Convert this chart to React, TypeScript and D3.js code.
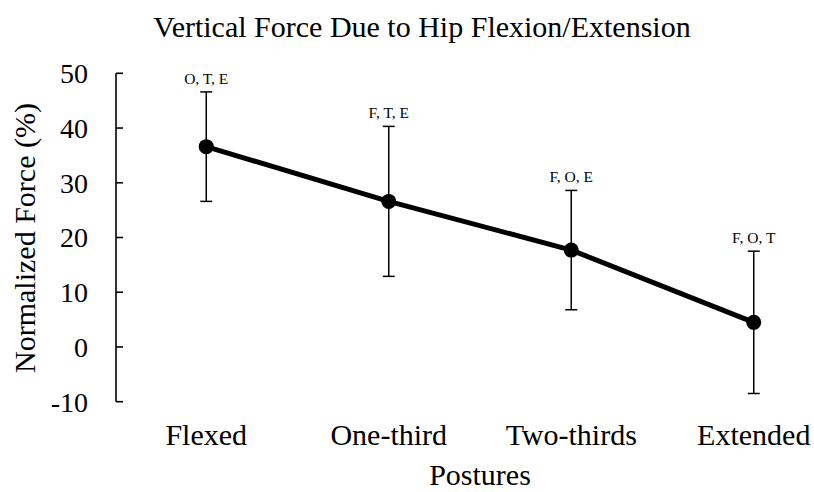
import React from "react";
import * as d3 from "d3";

const categories = ["Flexed", "One-third", "Two-thirds", "Extended"];
const means = [36.6, 26.6, 17.7, 4.5];
const errors = [10.0, 13.7, 10.9, 13.0];
const annotations = ["O, T, E", "F, T, E", "F, O, E", "F, O, T"];
const yTicks = [-10, 0, 10, 20, 30, 40, 50];

const W = 814;
const H = 492;
const FONT = "Liberation Serif, Times New Roman, Times, serif";

export default function App() {
  const x = d3.scalePoint<string>().domain(categories).range([115, 845]).padding(0.5);
  const y = d3.scaleLinear().domain([-10, 50]).range([401.7, 73.3]);
  const pts = categories.map((c, i) => [x(c) as number, y(means[i])] as [number, number]);
  const line = d3.line()(pts) || "";
  const axisX = 116;
  const ts = { fontFamily: FONT };

  return (
    <svg width={W} height={H} style={{ position: "absolute", left: 0, top: 0, background: "#fff", fontFamily: FONT }}>
      <rect x={0} y={0} width={W} height={H} fill="#fff" />
      <text x={422} y={37} fontSize={30} textAnchor="middle" fill="#000" style={ts}>
        Vertical Force Due to Hip Flexion/Extension
      </text>
      <line x1={axisX} x2={axisX} y1={y(50)} y2={y(-10)} stroke="#000" strokeWidth={1.6} />
      {yTicks.map((t) => (
        <g key={t}>
          <line x1={axisX} x2={axisX + 7} y1={y(t)} y2={y(t)} stroke="#000" strokeWidth={1.6} />
          <text x={88} y={y(t)} dy="0.35em" fontSize={28} textAnchor="end" fill="#000" style={ts}>
            {t}
          </text>
        </g>
      ))}
      <text transform={`translate(35, 238) rotate(-90)`} fontSize={30} textAnchor="middle" fill="#000" style={ts}>
        Normalized Force (%)
      </text>
      {categories.map((c, i) => {
        const cx = x(c) as number;
        const top = y(means[i] + errors[i]);
        const bot = y(means[i] - errors[i]);
        return (
          <g key={c}>
            <line x1={cx} x2={cx} y1={top} y2={bot} stroke="#000" strokeWidth={1.5} />
            <line x1={cx - 6} x2={cx + 6} y1={top} y2={top} stroke="#000" strokeWidth={1.5} />
            <line x1={cx - 6} x2={cx + 6} y1={bot} y2={bot} stroke="#000" strokeWidth={1.5} />
            <text x={cx} y={top - 8} fontSize={15.5} textAnchor="middle" fill="#000" style={ts}>
              {annotations[i]}
            </text>
          </g>
        );
      })}
      <path d={line} fill="none" stroke="#000" strokeWidth={5} strokeLinejoin="round" />
      {pts.map((p, i) => (
        <circle key={i} cx={p[0]} cy={p[1]} r={7.5} fill="#000" />
      ))}
      {categories.map((c) => (
        <text key={c} x={x(c) as number} y={445} fontSize={30} textAnchor="middle" fill="#000" style={ts}>
          {c}
        </text>
      ))}
      <text x={480} y={485} fontSize={30} textAnchor="middle" fill="#000" style={ts}>
        Postures
      </text>
    </svg>
  );
}
